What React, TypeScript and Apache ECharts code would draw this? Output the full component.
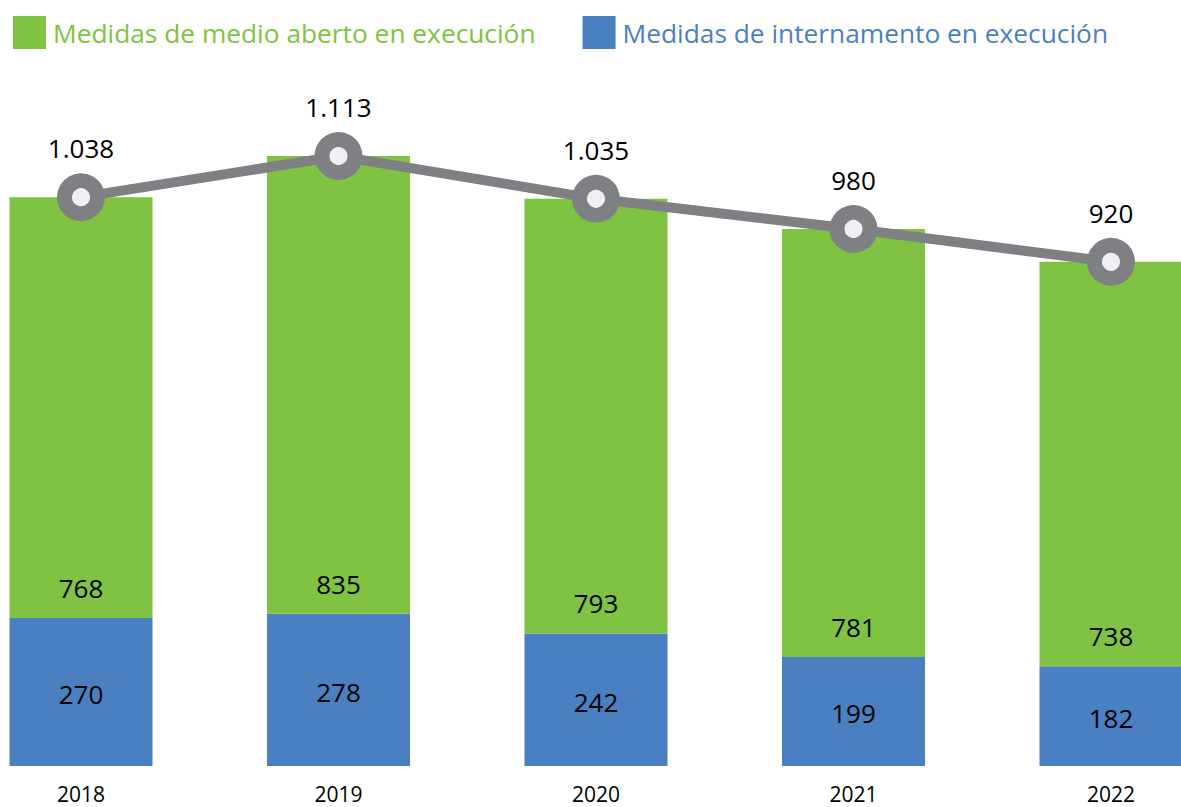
import React, { useEffect, useRef } from "react";
import * as echarts from "echarts";

const years = ["2018", "2019", "2020", "2021", "2022"];
const internamento = [270, 278, 242, 199, 182];
const medioAberto = [768, 835, 793, 781, 738];
const totals = [1038, 1113, 1035, 980, 920];

const GREEN = "#80c241";
const BLUE = "#4a7fc1";
const GRAY = "#7f8084";
const FONT = "Open Sans";

const fmt = (v: number) => {
  const s = String(Math.round(v));
  return s.replace(/\B(?=(\d{3})+(?!\d))/g, ".");
};

export default function App() {
  const ref = useRef<HTMLDivElement>(null);
  useEffect(() => {
    if (!ref.current) return;
    const chart = echarts.init(ref.current, null, { renderer: "svg" });
    chart.setOption({
      animation: false,
      textStyle: { fontFamily: FONT },
      legend: {
        left: 8,
        top: 11,
        itemWidth: 33,
        itemHeight: 33,
        itemGap: 47,
        icon: "rect",
        selectedMode: false,
        data: [
          { name: "Medidas de medio aberto en execución", textStyle: { color: GREEN } },
          { name: "Medidas de internamento en execución", textStyle: { color: BLUE } },
        ],
        textStyle: { fontSize: 26.3, fontFamily: FONT, padding: [4, 0, 0, 2] },
      },
      grid: { left: 81, right: 70, top: 108.4, bottom: 41 },
      xAxis: {
        type: "category",
        data: years,
        boundaryGap: false,
        axisLine: { show: false },
        axisTick: { show: false },
        axisLabel: { fontSize: 21, color: "#000", margin: 17, fontFamily: FONT },
      },
      yAxis: {
        type: "value",
        min: 0,
        max: 1200,
        show: false,
        splitLine: { show: false },
      },
      series: [
        {
          name: "Medidas de internamento en execución",
          type: "bar",
          stack: "total",
          data: internamento,
          barWidth: 143,
          clip: false,
          itemStyle: { color: BLUE },
          label: {
            show: true,
            position: "inside",
            offset: [0, 2],
            fontSize: 26,
            color: "#000",
            fontFamily: FONT,
          },
        },
        {
          name: "Medidas de medio aberto en execución",
          type: "bar",
          stack: "total",
          data: medioAberto,
          barWidth: 143,
          clip: false,
          itemStyle: { color: GREEN },
          label: {
            show: true,
            position: "insideBottom",
            distance: 17,
            fontSize: 26,
            color: "#000",
            fontFamily: FONT,
          },
        },
        {
          name: "Total",
          type: "line",
          data: totals,
          clip: false,
          z: 5,
          symbol: "circle",
          symbolSize: 33,
          lineStyle: { color: GRAY, width: 10 },
          itemStyle: { color: "#eef0f4", borderColor: GRAY, borderWidth: 15 },
          label: {
            show: true,
            position: "top",
            distance: 12,
            fontSize: 26,
            color: "#000",
            fontFamily: FONT,
            formatter: (p: any) => fmt(p.value),
          },
        },
      ],
    });
    return () => chart.dispose();
  }, []);
  return (
    <div
      ref={ref}
      style={{ position: "fixed", left: 0, top: 0, width: 1181, height: 807, background: "#fff" }}
    />
  );
}
